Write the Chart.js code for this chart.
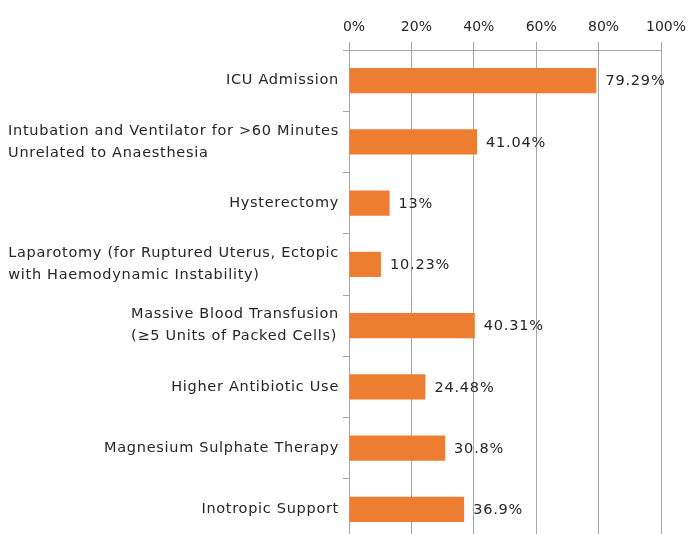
<!DOCTYPE html>
<html>
<head>
<meta charset="utf-8">
<script src="https://cdn.jsdelivr.net/npm/chart.js@4"></script>
<style>
  html, body { margin: 0; padding: 0; background: #fff; overflow: hidden; }
  canvas { display: block; }
</style>
</head>
<body>
<canvas id="chart" width="690" height="541"></canvas>
<script>
// dados do gráfico
const categories = [
  ['ICU Admission'],
  ['Intubation and Ventilator for >60 Minutes', 'Unrelated to Anaesthesia'],
  ['Hysterectomy'],
  ['Laparotomy (for Ruptured Uterus, Ectopic', 'with Haemodynamic Instability)'],
  ['Massive Blood Transfusion', '(\u22655 Units of Packed Cells)'],
  ['Higher Antibiotic Use'],
  ['Magnesium Sulphate Therapy'],
  ['Inotropic Support']
];
const percentages = [79.29, 41.04, 13, 10.23, 40.31, 24.48, 30.8, 36.9];
const xTicks = [0, 20, 40, 60, 80, 100];

const FONT = '"DejaVu Sans", sans-serif';
const TEXT = '#262626';

// rótulos do eixo y: bloco alinhado à direita, linhas alinhadas à esquerda
const yLabels = {
  id: 'yLabels',
  afterDraw(chart) {
    const { ctx, chartArea } = chart;
    const y = chart.scales.y;
    ctx.save();
    ctx.font = '14.5px ' + FONT;
    ctx.letterSpacing = '0.7px';
    ctx.fillStyle = TEXT;
    ctx.textBaseline = 'middle';
    ctx.textAlign = 'left';
    const lh = 22;
    categories.forEach((lines, i) => {
      const cy = y.getPixelForValue(i);
      const w = Math.max(...lines.map(l => ctx.measureText(l).width));
      const x = chartArea.left - 10 - w;
      lines.forEach((l, j) => {
        ctx.fillText(l, x, cy + (j - (lines.length - 1) / 2) * lh);
      });
    });
    ctx.restore();
  }
};

// valores ao lado das barras
const valueLabels = {
  id: 'valueLabels',
  afterDatasetsDraw(chart) {
    const { ctx } = chart;
    ctx.save();
    ctx.font = '14.5px ' + FONT;
    ctx.letterSpacing = '0.8px';
    ctx.fillStyle = TEXT;
    ctx.textBaseline = 'middle';
    ctx.textAlign = 'left';
    chart.getDatasetMeta(0).data.forEach((bar, i) => {
      ctx.fillText(percentages[i] + '%', bar.x + 9, bar.y + 1);
    });
    ctx.restore();
  }
};

new Chart(document.getElementById('chart'), {
  type: 'bar',
  data: {
    labels: categories,
    datasets: [{
      data: percentages,
      backgroundColor: '#ED7D31',
      borderWidth: 0,
      barPercentage: 0.41,
      categoryPercentage: 1
    }]
  },
  options: {
    indexAxis: 'y',
    responsive: false,
    animation: false,
    layout: { padding: { left: 8, right: 29, top: 0, bottom: 1 } },
    plugins: { legend: { display: false }, tooltip: { enabled: false } },
    scales: {
      x: {
        position: 'top',
        min: 0,
        max: 100,
        afterBuildTicks(s) { s.ticks = xTicks.map(v => ({ value: v })); },
        afterFit(s) { s.height = 50; },
        ticks: {
          callback: v => v + '%',
          color: TEXT,
          font: { family: FONT, size: 14 },
          padding: 6,
          labelOffset: 5,
          maxRotation: 0
        },
        grid: { color: '#a6a6a6', lineWidth: 1, tickLength: 8, drawTicks: true },
        border: { color: '#a6a6a6' }
      },
      y: {
        afterFit(s) { s.width = 341; },
        ticks: { display: false },
        grid: { drawOnChartArea: false, color: '#a6a6a6', tickLength: 6, offset: true },
        border: { color: '#a6a6a6' }
      }
    }
  },
  plugins: [yLabels, valueLabels]
});
</script>
</body>
</html>
